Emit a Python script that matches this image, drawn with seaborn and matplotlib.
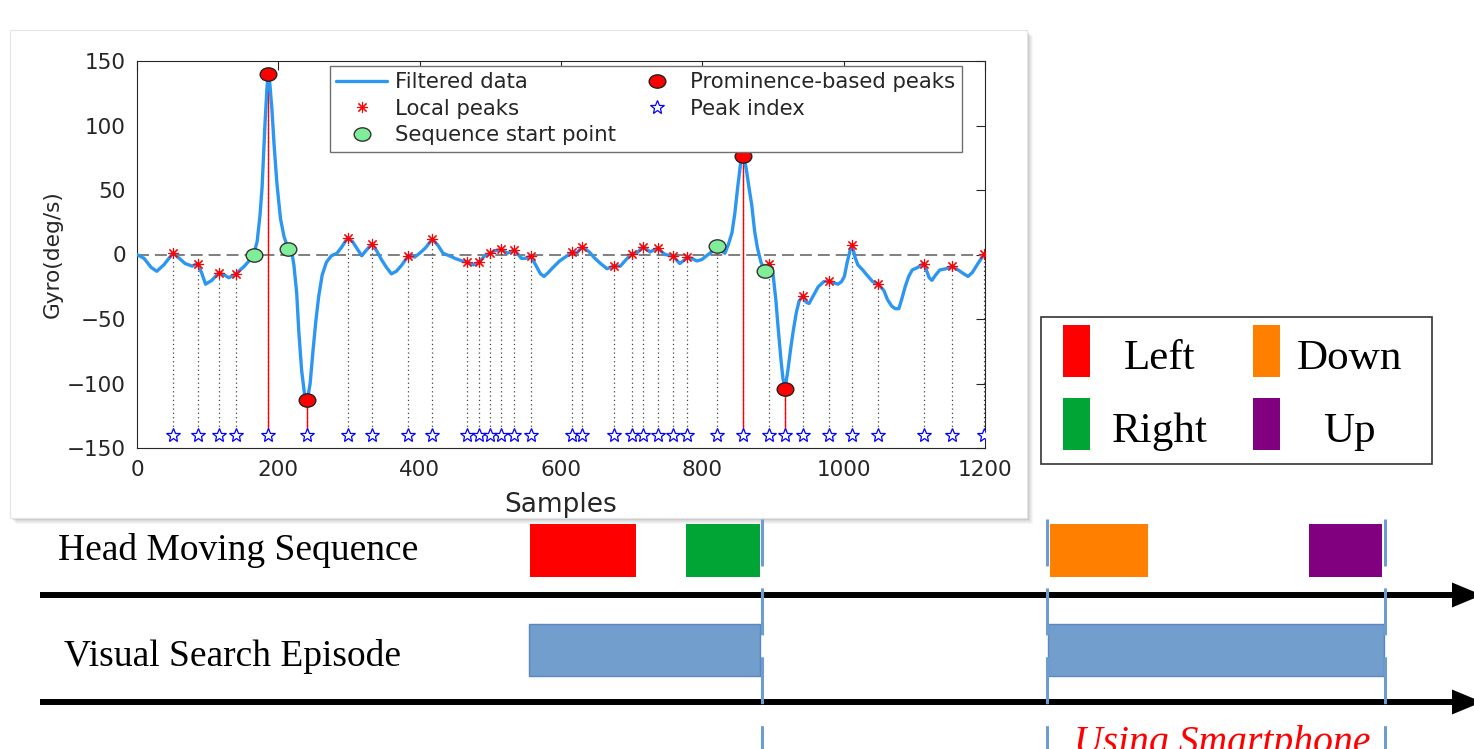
import matplotlib
matplotlib.use("Agg")
import matplotlib.pyplot as plt
import seaborn as sns
from matplotlib.patches import Rectangle, Polygon
from matplotlib.lines import Line2D
from matplotlib.path import Path

# filtered gyro trace (samples, deg/s)
samples = [0, 10, 20, 28, 38, 51, 60, 68, 78, 86, 92, 97, 106, 116, 124, 130, 140,
           152, 160, 165, 170, 174, 177, 181, 184, 186, 188, 191, 194, 198, 203, 208,
           214, 219, 222, 226, 229, 233, 237, 241, 245, 249, 253, 257, 262, 268, 275,
           283, 290, 298, 305, 312, 318, 324, 332, 339, 346, 353, 360, 367, 375, 384,
           393, 400, 408, 418, 426, 433, 442, 450, 460, 467, 476, 484, 492, 500, 507,
           515, 524, 534, 544, 550, 557, 565, 571, 576, 582, 587, 598, 606, 616, 622,
           630, 640, 648, 656, 665, 675, 684, 692, 700, 707, 716, 726, 737, 747, 758,
           763, 768, 773, 779, 785, 792, 799, 806, 813, 821, 826, 832, 837, 842, 846,
           850, 854, 858, 862, 866, 870, 874, 878, 883, 888, 895, 900, 904, 907, 911,
           914, 917, 921, 925, 929, 933, 937, 942, 947, 951, 957, 964, 972, 979, 986,
           992, 997, 1001, 1005, 1009, 1012, 1016, 1020, 1027, 1033, 1041, 1049, 1057,
           1062, 1068, 1073, 1078, 1082, 1087, 1092, 1097, 1105, 1113, 1117, 1121, 1125,
           1130, 1136, 1145, 1154, 1162, 1170, 1176, 1182, 1190, 1199, 1200]
gyro = [0, -3, -10, -13, -8, 1, -3, -7, -9, -7, -15, -23, -20, -14, -16, -18, -15,
        -9, -4, 0, 10, 30, 52, 100, 130, 140, 132, 112, 85, 55, 28, 14,
        4, 2, -8, -30, -60, -90, -108, -113, -100, -75, -52, -33, -16, -6, -1,
        1, 6, 13, 10, 4, -1, 3, 8, 3, -4, -10, -15, -13, -8, -1,
        -2, 1, 5, 12, 7, 1, -1, -3, -5, -6, -8, -6, -1, 1, 3,
        4, 1, 3.5, -3, -3, -1, -9, -15, -17, -14, -11, -5, -2, 2, 1,
        6, 2, -3, -7, -11, -9, -9, -4, 0.5, 1, 6, 2, 5, 0, -1,
        -4, -7, -5, -2, -3, -5, -4, -1, 2, 6.6, 3, 1, 8, 17, 32,
        52, 70, 76, 67, 52, 38, 18, 5, -6, -12, -7, -15, -35, -55, -80,
        -96, -104, -90, -73, -58, -45, -36, -32, -37, -38, -32, -25, -21, -20.5, -22,
        -23, -21, -17, -6, 3, 7.4, -2, -8, -12, -16, -21, -23, -28,
        -35, -40, -42, -42, -35, -25, -17, -12, -10, -7, -12, -18, -20,
        -16, -12, -11, -9, -12, -15, -17, -14, -7, 0.5, 0.5]

# local peaks found on the trace
peak_x = [51, 86, 116, 140, 186, 241, 298, 332, 384, 418, 467, 484, 500, 515, 534,
          557, 616, 630, 675, 700, 716, 737, 758, 778, 821, 858, 895, 917, 942, 979,
          1012, 1049, 1113, 1154, 1199]
peak_y = [1, -7, -14, -15, 140, -113, 13, 8, -1, 12, -6, -6, 1, 4, 3.5,
          -1, 2, 6, -9, 0.5, 6, 5, -1, -2, 6.6, 76, -7, -104, -32, -20.5,
          7.4, -23, -7, -9, 0.5]
peak_index_level = -140

prom_x = [186, 241, 858, 917]
prom_y = [140, -113, 76, -104]
start_x = [165, 214, 821, 888]
start_y = [0, 4, 6.6, -12.5]

x_ticks = [0, 200, 400, 600, 800, 1000, 1200]
y_ticks = [-150, -100, -50, 0, 50, 100, 150]

# timeline diagram below the plot (figure pixel scale)
moves = ["Left", "Right", "Down", "Up"]
move_colors = ["#FF0000", "#00A535", "#FF8000", "#800080"]
move_start = [530, 686, 1050, 1309]
move_end = [636, 760, 1148, 1382]
episode_start = [529, 1048]
episode_end = [760, 1384]
episode_marks = [762, 1047, 1385]

W, H = 1474, 749
curve_color = "#2D96F0"
green = "#80EE98"
serif = "Liberation Serif"

sns.set_theme(style="white")
plt.rcParams["font.family"] = ["DejaVu Sans"]
plt.rcParams["lines.scale_dashes"] = False

# slightly flattened circle, the source figure is stretched sideways
circ = Path.unit_circle()
ellipse = Path(circ.vertices * [1.0, 0.8], circ.codes)
asterisk = (8, 2, 0)

fig = plt.figure(figsize=(W / 100, H / 100), dpi=100)

bg = fig.add_axes([0, 0, 1, 1])
bg.set_xlim(0, W)
bg.set_ylim(H, 0)
bg.axis("off")

# white panel of the plot with a soft drop shadow
for i in range(1, 8):
    bg.add_patch(Rectangle((10 + i * 0.8, 30 + i * 0.8), 1017, 488,
                           facecolor="black", alpha=0.035, lw=0))
bg.add_patch(Rectangle((10, 30), 1017, 488, facecolor="white", edgecolor="#e4e4e4", lw=0.8))

# head moving sequence + visual search episode rows
for c, a, b in zip(move_colors, move_start, move_end):
    bg.add_patch(Rectangle((a, 524), b - a, 53, facecolor=c, lw=0))
for a, b in zip(episode_start, episode_end):
    bg.add_patch(Rectangle((a, 624), b - a, 52, facecolor="#729ECE", edgecolor="#5B87BE", lw=1))
for y in [595, 702]:
    bg.plot([40, 1455], [y, y], color="black", lw=4.3, solid_capstyle="butt")
    bg.add_patch(Polygon([[1452, y - 12.5], [1482, y], [1452, y + 12.5]], closed=True,
                         facecolor="black", lw=0))
for xm in episode_marks:
    bg.plot([xm, xm], [519, 760], color="#6E9BD0", lw=2.2, ls=(0, (33.8, 15.8)))

bg.text(58, 560, "Head Moving Sequence", family=serif, fontsize=27, va="baseline", color="black")
bg.text(64, 666, "Visual Search Episode", family=serif, fontsize=27, va="baseline", color="black")
# runs off the bottom edge, as in the source
bg.text(1222, 753, "Using Smartphone", family=serif, style="italic", fontsize=28.5,
        color="#FF0000", ha="center", va="baseline")

# colour key for the head moves
bg.add_patch(Rectangle((1041, 317), 391, 147, facecolor="white", edgecolor="#333333", lw=1.2))
key_x = [1063, 1063, 1253, 1253]
key_top = [325, 398, 325, 398]
key_text_x = [1160, 1160, 1349, 1349]
for lab, c, kx, kt, tx in zip(moves, move_colors, key_x, key_top, key_text_x):
    bg.add_patch(Rectangle((kx, kt), 27, 52, facecolor=c, lw=0))
    bg.text(tx, kt + 44, lab, family=serif, fontsize=31, ha="center", va="baseline", color="black")

# gyro plot
ax = fig.add_axes([137 / W, 1 - 448 / H, 848 / W, 387 / H])
ax.set_facecolor("white")
ax.axhline(0, color="#7f7f7f", lw=1.4, ls=(0, (8.6, 4.3)), zorder=1)
ax.vlines(peak_x, peak_index_level, peak_y, colors="#444444", lw=0.9,
          linestyles=[(0, (0.9, 2.2))], zorder=1)
ax.vlines(prom_x, peak_index_level, prom_y, colors="red", lw=1.0, zorder=2)
sns.lineplot(x=samples, y=gyro, ax=ax, color=curve_color, lw=2.4, estimator=None,
             sort=False, legend=False, zorder=3)
ax.plot(peak_x, peak_y, ls="none", marker=asterisk, ms=8, mec="red", mew=0.8, zorder=4)
ax.plot(peak_x, [peak_index_level] * len(peak_x), ls="none", marker="*", ms=10,
        mfc="white", mec="blue", mew=0.9, zorder=4)
ax.plot(start_x, start_y, ls="none", marker=ellipse, ms=12, mfc=green, mec="#333333",
        mew=1, zorder=5)
ax.plot(prom_x, prom_y, ls="none", marker=ellipse, ms=12, mfc="#FF0000", mec="#222222",
        mew=1, zorder=5)

ax.set_xlim(0, 1200)
ax.set_ylim(-150, 150)
ax.set_xticks(x_ticks)
ax.set_yticks(y_ticks)
ax.tick_params(direction="in", length=6.5, width=0.8, top=True, right=True,
               labelsize=15.5, colors="#262626", pad=9)
ax.tick_params(axis="y", pad=8)
for s in ax.spines.values():
    s.set_color("#262626")
    s.set_linewidth(0.8)
    s.set_visible(True)

ax.set_xlabel("Samples", fontsize=19, color="#262626")
ax.xaxis.set_label_coords(0.5, -0.113)
ax.set_ylabel("Gyro(deg/s)", fontsize=15.6, color="#262626")
ax.yaxis.set_label_coords(-0.088, 0.5)

handles = [
    Line2D([], [], color=curve_color, lw=2.4, label="Filtered data"),
    Line2D([], [], ls="none", marker=asterisk, ms=8, mec="red", mew=0.8, label="Local peaks"),
    Line2D([], [], ls="none", marker=ellipse, ms=12, mfc=green, mec="#333333",
           label="Sequence start point"),
    Line2D([], [], ls="none", marker=ellipse, ms=12, mfc="#FF0000", mec="#222222",
           label="Prominence-based peaks"),
    Line2D([], [], ls="none", marker="*", ms=10, mfc="white", mec="blue", mew=0.9,
           label="Peak index"),
]
leg = ax.legend(handles=handles, ncol=2, loc="upper left", bbox_to_anchor=(0.2276, 0.987),
                borderaxespad=0, fontsize=15.3, frameon=True, fancybox=False,
                edgecolor="#707070", framealpha=1, handlelength=2.4, handletextpad=0.35,
                columnspacing=0.75, labelspacing=0.3, borderpad=0.3)
leg.get_frame().set_linewidth(1)

fig.savefig("out.png", dpi=100)
